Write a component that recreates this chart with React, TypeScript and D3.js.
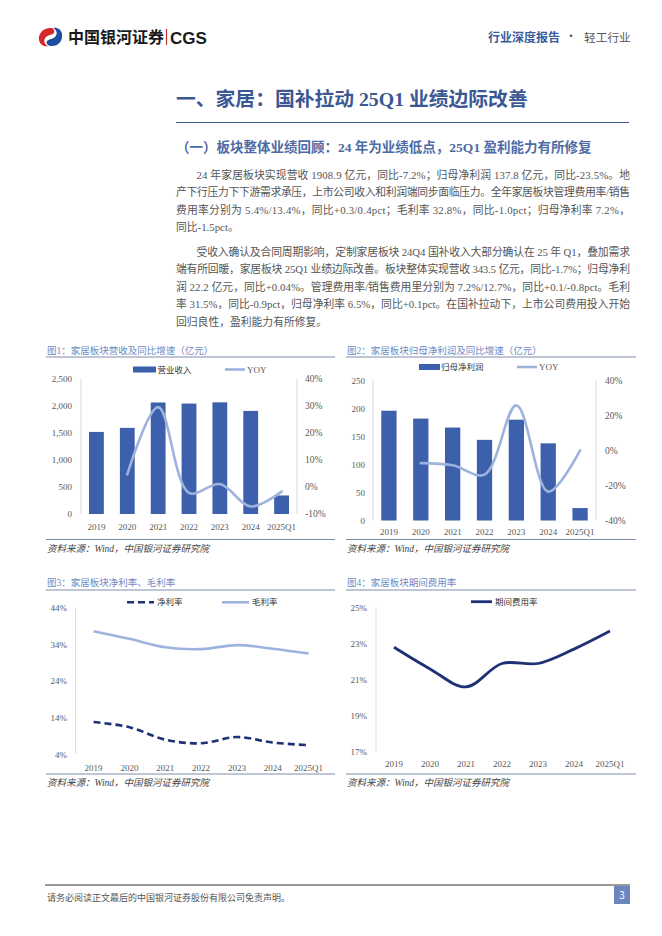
import React from 'react';
import * as d3 from 'd3';

const years = ['2019', '2020', '2021', '2022', '2023', '2024', '2025Q1'];
const revenue = [1520, 1595, 2065, 2045, 2068, 1908.9, 343.5];
const revenueYoy: (number | null)[] = [null, 4.7, 29.6, -2.2, 1.1, -7.2, -1.7];
const netProfit = [196, 182, 166, 144, 180, 137.8, 22.2];
const netProfitYoy: (number | null)[] = [null, -7.2, -8.4, -13.8, 25.8, -23.5, 0.04];
const netMargin = [12.8, 11.4, 8.0, 7.0, 8.7, 7.2, 6.5];
const grossMargin = [37.6, 35.5, 33.2, 32.7, 33.8, 32.8, 31.5];
const expenseRate = [22.8, 21.6, 20.6, 21.9, 21.9, 22.7, 23.7];

const revTicks = [0, 500, 1000, 1500, 2000, 2500];
const revYoyTicks = [-10, 0, 10, 20, 30, 40];
const profitTicks = [0, 50, 100, 150, 200, 250];
const profitYoyTicks = [-40, -20, 0, 20, 40];
const marginTicks = [4, 14, 24, 34, 44];
const expenseTicks = [17, 19, 21, 23, 25];

const para1 = [
  '24 年家居板块实现营收 1908.9 亿元，同比-7.2%；归母净利润 137.8 亿元，同比-23.5%。地',
  '产下行压力下下游需求承压，上市公司收入和利润端同步面临压力。全年家居板块管理费用率/销售',
  '费用率分别为 5.4%/13.4%，同比+0.3/0.4pct；毛利率 32.8%，同比-1.0pct；归母净利率 7.2%，',
  '同比-1.5pct。',
];
const para2 = [
  '受收入确认及合同周期影响，定制家居板块 24Q4 国补收入大部分确认在 25 年 Q1，叠加需求',
  '端有所回暖，家居板块 25Q1 业绩边际改善。板块整体实现营收 343.5 亿元，同比-1.7%；归母净利',
  '润 22.2 亿元，同比+0.04%。管理费用率/销售费用里分别为 7.2%/12.7%，同比+0.1/-0.8pct。毛利',
  '率 31.5%，同比-0.9pct，归母净利率 6.5%，同比+0.1pct。在国补拉动下，上市公司费用投入开始',
  '回归良性，盈利能力有所修复。',
];

const SERIF = "'Liberation Serif','Noto Sans CJK SC',serif";
const SANS = "'Noto Sans CJK SC','Noto Sans',sans-serif";
const BAR = '#3d60ad';
const LIGHT = '#9db3dd';
const NAVY = '#1f3175';
const AXIS = '#d9d9d9';
const LABEL = '#595959';
const TITLEC = '#6f88c2';
const RULE = '#5b6e9c';

function ChartFrame({ x0, x1, titleY, ruleY, srcLineY, srcY, title }: any) {
  return (
    <g>
      <text x={x0 + 1} y={titleY} fontSize={9.5} fill={TITLEC} fontFamily={SERIF}>{title}</text>
      <line x1={x0} x2={x1} y1={ruleY} y2={ruleY} stroke={RULE} strokeWidth={0.8} />
      <line x1={x0} x2={x1} y1={srcLineY} y2={srcLineY} stroke={RULE} strokeWidth={0.8} />
      <text x={x0 + 1} y={srcY} fontSize={9.5} fill="#444" fontStyle="italic" fontFamily={SERIF}>资料来源：Wind，中国银河证券研究院</text>
    </g>
  );
}

function BarLineChart(props: any) {
  const { left, right, top, bottom, values, yoy, lTicks, rTicks, lFmt, lLabelX, rLabelX, xLabelY, legend } = props;
  const x = d3.scalePoint<string>().domain(years).range([left, right]).padding(0.5);
  const step = x.step();
  const bw = step * 0.48;
  const yL = d3.scaleLinear().domain([lTicks[0], lTicks[lTicks.length - 1]]).range([bottom, top]);
  const yR = d3.scaleLinear().domain([rTicks[0], rTicks[rTicks.length - 1]]).range([bottom, top]);
  const line = d3
    .line<number | null>()
    .defined((d) => d != null)
    .x((_, i) => x(years[i]) as number)
    .y((d) => yR(d as number))
    .curve(d3.curveCatmullRom.alpha(0.5));
  return (
    <g>
      <line x1={left} x2={left} y1={top} y2={bottom} stroke={AXIS} />
      <line x1={right} x2={right} y1={top} y2={bottom} stroke={AXIS} />
      {lTicks.map((t: number) => (
        <text key={'l' + t} x={lLabelX} y={yL(t) + 3.3} textAnchor="end" fontSize={9} fill={LABEL} fontFamily={SERIF}>{lFmt(t)}</text>
      ))}
      {rTicks.map((t: number) => (
        <text key={'r' + t} x={rLabelX} y={yR(t) + 3.3} fontSize={9.5} fill={LABEL} fontFamily={SERIF}>{t + '%'}</text>
      ))}
      {values.map((v: number, i: number) => (
        <rect key={i} x={(x(years[i]) as number) - bw / 2} y={yL(v)} width={bw} height={bottom - yL(v)} fill={BAR} />
      ))}
      <path d={line(yoy) || ''} fill="none" stroke={LIGHT} strokeWidth={2.6} strokeLinecap="round" />
      {years.map((yv) => (
        <text key={yv} x={x(yv)} y={xLabelY + 3.3} textAnchor="middle" fontSize={9} fill={LABEL} fontFamily={SERIF}>{yv}</text>
      ))}
      <rect x={legend.rx} y={legend.ry - 3} width={legend.rw} height={6} fill={BAR} />
      <text x={legend.tx} y={legend.ry + 3} fontSize={8.5} fill="#333" fontFamily={SANS}>{legend.label}</text>
      <line x1={legend.lx} x2={legend.lx + 20} y1={legend.ry} y2={legend.ry} stroke={LIGHT} strokeWidth={2.6} />
      <text x={legend.lx + 22} y={legend.ry + 3.3} fontSize={9} fill={LABEL} fontFamily={SERIF}>YOY</text>
    </g>
  );
}

function LineChart(props: any) {
  const { left, right, top, bottom, series, ticks, labelX, xLabelY } = props;
  const x = d3.scalePoint<string>().domain(years).range([left, right]).padding(0.5);
  const y = d3.scaleLinear().domain([ticks[0], ticks[ticks.length - 1]]).range([bottom, top]);
  const line = d3
    .line<number>()
    .x((_, i) => x(years[i]) as number)
    .y((d) => y(d))
    .curve(d3.curveCatmullRom.alpha(0.5));
  return (
    <g>
      <line x1={left} x2={left} y1={top} y2={bottom} stroke={AXIS} />
      {ticks.map((t: number) => (
        <text key={t} x={labelX} y={y(t) + 3.3} textAnchor="end" fontSize={9} fill={LABEL} fontFamily={SERIF}>{t + '%'}</text>
      ))}
      {years.map((yv) => (
        <text key={yv} x={x(yv)} y={xLabelY + 3.3} textAnchor="middle" fontSize={9} fill={LABEL} fontFamily={SERIF}>{yv}</text>
      ))}
      {series.map((s: any, k: number) => (
        <g key={k}>
          <path d={line(s.values) || ''} fill="none" stroke={s.color} strokeWidth={s.width} strokeDasharray={s.dash || null} />
          <line x1={s.lx} x2={s.lx + s.lw} y1={s.ly} y2={s.ly} stroke={s.color} strokeWidth={s.width} strokeDasharray={s.dash || null} />
          <text x={s.lx + s.lw + 3} y={s.ly + 3} fontSize={8.5} fill="#333" fontFamily={SANS}>{s.name}</text>
        </g>
      ))}
    </g>
  );
}

export default function App() {
  const lineH = 17.6;
  return (
    <svg width={662} height={936} style={{ position: 'absolute', left: 0, top: 0, background: '#fff' }}>
      <rect width={662} height={936} fill="#fff" />
      {/* header */}
      <g>
        <path d="M52 28 C44 27 38 33 39 40 C40 45 44 47 48 46 C44 44 43 40 46 37 C48 35 52 35 54 33 C55 31 54 29 52 28 Z" fill="#d8262d" />
        <path d="M50 46 C58 47 63 41 62 34 C61 29 57 27 53 28 C57 30 58 34 55 37 C53 39 49 39 47 41 C46 43 47 45 50 46 Z" fill="#1c4f9e" />
        <text x={68} y={43} fontSize={16} fontWeight="bold" fill="#1a1a1a" fontFamily={SANS}>中国银河证券</text>
        <line x1={166.5} x2={166.5} y1={29} y2={45} stroke="#b33" strokeWidth={1.2} />
        <text x={170} y={43.5} fontSize={17} fontWeight="bold" fill="#1a1a1a" fontFamily="'Liberation Sans',Arial,sans-serif">CGS</text>
        <text x={488} y={41.5} fontSize={12} fontWeight="bold" fill="#3a5a9c" fontFamily={SANS}>行业深度报告</text>
        <text x={571} y={41} fontSize={12} textAnchor="middle" fill="#555" fontFamily={SANS}>·</text>
        <text x={584} y={41.5} fontSize={11.7} fill="#555" fontFamily={SANS}>轻工行业</text>
      </g>
      {/* title */}
      <text x={176} y={106} fontSize={19.8} fontWeight="bold" fill="#3b5893" fontFamily={SERIF}>一、家居：国补拉动 25Q1 业绩边际改善</text>
      <line x1={176} x2={629} y1={122.5} y2={122.5} stroke="#3b5893" strokeWidth={1} />
      <text x={176} y={152} fontSize={13.5} fontWeight="bold" fill="#4d6ba5" fontFamily={SERIF}>（一）板块整体业绩回顾：24 年为业绩低点，25Q1 盈利能力有所修复</text>
      {/* paragraphs */}
      {para1.map((t, i) => {
        const x = i === 0 ? 196.5 : 176;
        const justify = i < para1.length - 1;
        return (
          <text key={'p1' + i} x={x} y={178.5 + i * lineH} fontSize={10.8} fill="#555" fontFamily={SERIF}
            {...(justify ? { textLength: 630 - x, lengthAdjust: 'spacing' } : {})}>{t}</text>
        );
      })}
      {para2.map((t, i) => {
        const x = i === 0 ? 196.5 : 176;
        const justify = i < para2.length - 1;
        return (
          <text key={'p2' + i} x={x} y={255.5 + i * lineH} fontSize={10.8} fill="#555" fontFamily={SERIF}
            {...(justify ? { textLength: 630 - x, lengthAdjust: 'spacing' } : {})}>{t}</text>
        );
      })}
      {/* chart 1 */}
      <ChartFrame x0={46} x1={335} titleY={353.5} ruleY={357} srcLineY={539.5} srcY={552} title="图1：家居板块营收及同比增速（亿元）" />
      <BarLineChart left={81} right={297} top={379} bottom={514} values={revenue} yoy={revenueYoy}
        lTicks={revTicks} rTicks={revYoyTicks} lFmt={d3.format(',')} lLabelX={72} rLabelX={305} xLabelY={527}
        legend={{ rx: 133, rw: 23, ry: 369.5, tx: 157.5, label: '营业收入', lx: 225 }} />
      {/* chart 2 */}
      <ChartFrame x0={346} x1={636} titleY={353.5} ruleY={357} srcLineY={539.5} srcY={552} title="图2：家居板块归母净利润及同比增速（亿元）" />
      <BarLineChart left={373} right={596} top={380.5} bottom={520.5} values={netProfit} yoy={netProfitYoy}
        lTicks={profitTicks} rTicks={profitYoyTicks} lFmt={(d: number) => String(d)} lLabelX={365} rLabelX={605} xLabelY={531.5}
        legend={{ rx: 419, rw: 21, ry: 367, tx: 441, label: '归母净利润', lx: 517 }} />
      {/* chart 3 */}
      <ChartFrame x0={46} x1={335} titleY={585.5} ruleY={590} srcLineY={774} srcY={786} title="图3：家居板块净利率、毛利率" />
      <LineChart left={75.7} right={326.5} top={607.7} bottom={754.3} ticks={marginTicks} labelX={67} xLabelY={768}
        series={[
          { name: '净利率', values: netMargin, color: NAVY, width: 2.6, dash: '7,4', lx: 127, lw: 27, ly: 602.3 },
          { name: '毛利率', values: grossMargin, color: LIGHT, width: 2.6, lx: 222, lw: 27, ly: 602.3 },
        ]} />
      {/* chart 4 */}
      <ChartFrame x0={346} x1={636} titleY={585.5} ruleY={590} srcLineY={774} srcY={786} title="图4：家居板块期间费用率" />
      <LineChart left={376} right={628} top={607.7} bottom={751.7} ticks={expenseTicks} labelX={367} xLabelY={763.3}
        series={[
          { name: '期间费用率', values: expenseRate, color: NAVY, width: 2.8, lx: 471, lw: 21, ly: 601.7 },
        ]} />
      {/* footer */}
      <line x1={45} x2={630} y1={885} y2={885} stroke="#333" strokeWidth={1} />
      <text x={47} y={901} fontSize={9} fill="#555" fontFamily={SERIF}>请务必阅读正文最后的中国银河证券股份有限公司免责声明。</text>
      <rect x={614} y={886} width={16} height={18} fill="#6d86c0" />
      <text x={622} y={899} textAnchor="middle" fontSize={10} fill="#fff" fontFamily={SANS}>3</text>
    </svg>
  );
}
